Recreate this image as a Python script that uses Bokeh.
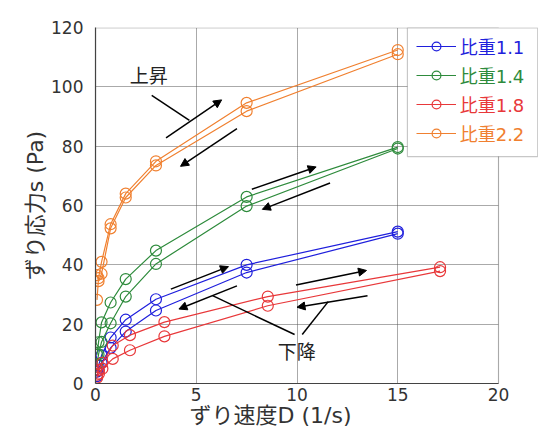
from bokeh.plotting import figure
from bokeh.models import (Range1d, SingleIntervalTicker, Legend, LegendItem, Title,
                          Arrow, NormalHead, ColumnDataSource, Label, BoxAnnotation)
from bokeh.embed import file_html
from bokeh.resources import INLINE

# ---- data ----
rate_a = [0.075, 0.15, 0.3, 0.75, 1.5, 3.0, 7.5, 15.0]
rate_b = [0.0855, 0.171, 0.342, 0.855, 1.71, 3.42, 8.55, 17.1]

s11_up = [4.0, 6.0, 9.5, 15.5, 21.5, 28.4, 40.0, 51.2]
s11_dn = [2.5, 4.5, 7.0, 12.0, 17.5, 24.6, 37.4, 50.5]
s14_up = [9.7, 13.9, 20.6, 27.3, 35.2, 44.8, 62.9, 79.7]
s14_dn = [6.5, 9.8, 14.0, 20.3, 29.3, 40.3, 59.8, 79.2]
s18_up = [3.0, 4.5, 7.0, 12.8, 16.3, 20.7, 29.3, 39.2]
s18_dn = [2.0, 3.3, 5.0, 8.3, 11.2, 15.9, 26.2, 37.9]
s22_up = [28.2, 35.5, 41.0, 53.7, 64.0, 74.9, 94.6, 112.4]
s22_dn = [36.5, 34.5, 37.0, 52.3, 62.7, 73.5, 91.8, 111.0]

labels = ["比重1.1", "比重1.4", "比重1.8", "比重2.2"]
colors = ["#1f1fdc", "#2e8b3c", "#e8383a", "#f08030"]
x_title = "ずり速度D (1/s)"
y_title = "ずり応力s (Pa)"

x_min, x_max = 0, 20
y_min, y_max = 0, 120
x_ticks_interval = 5
y_ticks_interval = 20

# annotation arrows: (x0, y0, x1, y1, has_head)
arrows = [
    (3.5, 82.8, 6.26, 95.6, True),
    (7.02, 85.9, 4.22, 73.2, True),
    (7.76, 65.5, 10.95, 73.0, True),
    (11.64, 67.6, 8.28, 58.7, True),
    (3.74, 31.8, 6.60, 39.4, True),
    (7.02, 32.9, 4.14, 25.1, True),
    (9.95, 33.2, 13.45, 38.1, True),
    (13.5, 29.6, 10.0, 25.7, True),
    (2.79, 97.1, 4.66, 88.7, False),
    (5.81, 29.6, 9.88, 16.5, False),
    (10.26, 16.5, 11.55, 27.6, False),
]
notes = [("上昇", 1.7, 103.5), ("下降", 9.05, 10.5)]

FONT = "DejaVu Sans, Noto Sans CJK JP"

# layout (pixels)
W, H = 538, 433
B_LEFT, B_RIGHT, B_TOP, B_BOTTOM = 95, 0, 27, 50
frame_w = W - B_LEFT - B_RIGHT
plot_w = 403  # width of the 0..20 axis in pixels; the legend sticks out to the right
x_end = x_max * frame_w / plot_w

p = figure(width=W, height=H, output_backend="svg", toolbar_location=None,
           x_range=Range1d(x_min, x_end), y_range=Range1d(y_min, y_max),
           min_border_left=B_LEFT, min_border_right=B_RIGHT, min_border_top=B_TOP,
           min_border_bottom=B_BOTTOM)

p.xaxis.ticker = SingleIntervalTicker(interval=x_ticks_interval)
p.yaxis.ticker = SingleIntervalTicker(interval=y_ticks_interval)
p.xaxis.bounds = (x_min, x_max)
for ax in (p.xaxis[0], p.yaxis[0]):
    ax.major_label_text_font = FONT
    ax.major_label_text_font_size = "17px"
    ax.major_label_text_color = "#333333"
    ax.axis_label_text_font = FONT
    ax.axis_label_text_font_size = "22px"
    ax.axis_label_text_font_style = "normal"
    ax.axis_label_text_color = "#333333"
    ax.major_tick_line_color = None
    ax.minor_tick_line_color = None
    ax.major_tick_out = 0
    ax.major_tick_in = 0
    ax.minor_tick_out = 0
    ax.axis_line_color = "#444444"
    ax.axis_line_width = 1.2
p.yaxis.axis_label = y_title
p.xaxis.major_label_standoff = 4
p.yaxis.major_label_standoff = 12
p.yaxis.axis_label_standoff = 0

# x title centred under the 0..20 part of the axis
p.add_layout(Title(text=x_title, align="left", offset=94, standoff=-6,
                   text_font=FONT, text_font_size="22px", text_font_style="normal",
                   text_color="#333333"), "below")

p.grid.grid_line_color = "#555555"
p.grid.grid_line_dash = "1 1"
p.grid.grid_line_width = 1
p.outline_line_color = None

series = [
    (rate_a, s11_up, s11_dn),
    (rate_a, s14_up, s14_dn),
    (rate_b, s18_up, s18_dn),
    (rate_a, s22_up, s22_dn),
]

# hide grid beyond the axis end and draw the plot box
p.add_layout(BoxAnnotation(left=x_max, right=x_end, bottom=y_min, top=y_max,
                           fill_color="white", fill_alpha=1.0, line_color=None,
                           level="underlay"))
p.add_layout(BoxAnnotation(left=x_min, right=x_max, bottom=y_min, top=y_max - 0.15,
                           fill_alpha=0, line_color="#444444", line_width=1.2))

legend_items = []
for (xs, up, dn), lab, col in zip(series, labels, colors):
    rs = []
    for ys in (up, dn):
        src = ColumnDataSource(dict(x=xs, y=ys))
        l = p.line("x", "y", source=src, line_color=col, line_width=1.2)
        s = p.scatter("x", "y", source=src, marker="circle", size=11,
                      line_color=col, fill_color=None, line_width=1.2)
        rs.append(l)
        rs.append(s)
    legend_items.append((LegendItem(label=lab, renderers=rs[:2]), col))

for (x0, y0, x1, y1, head) in arrows:
    p.add_layout(Arrow(x_start=x0, y_start=y0, x_end=x1, y_end=y1,
                       line_color="black", line_width=1.5,
                       end=NormalHead(size=8, fill_color="black", line_color="black") if head else None))

for (t, x, y) in notes:
    p.add_layout(Label(x=x, y=y, text=t, text_font=FONT, text_font_size="19px",
                       text_color="#222222", text_baseline="middle", text_align="left"))

# legend box (data units) and one legend per entry so each label has its colour
p.add_layout(BoxAnnotation(left=15.48, right=x_end - 0.04, bottom=76.5, top=y_max - 0.15,
                           fill_color="white", fill_alpha=1.0,
                           line_color="#444444", line_width=1.2))
leg_x = 320.7
leg_y0, leg_step = 324.3, 29.0
for i, (item, col) in enumerate(legend_items):
    lg = Legend(items=[item], location=(leg_x, leg_y0 - i * leg_step),
                label_text_font=FONT, label_text_font_size="18px",
                label_text_color=col, glyph_width=40, glyph_height=22,
                label_height=22, spacing=0, padding=0, margin=0,
                label_standoff=4, border_line_color=None,
                background_fill_alpha=0)
    p.add_layout(lg, "center")

open("out.html", "w").write(file_html(p, INLINE))
